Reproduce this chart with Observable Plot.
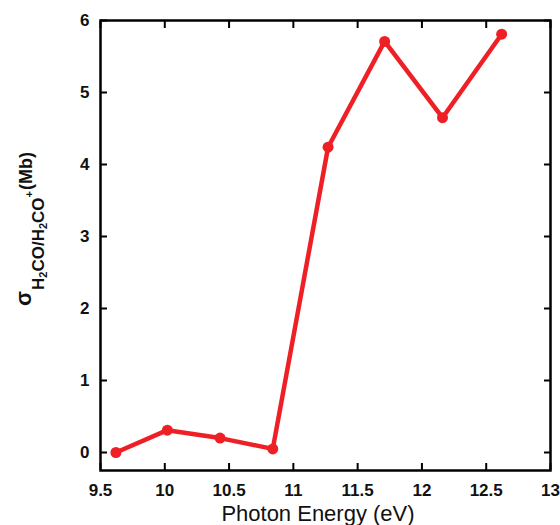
<!DOCTYPE html>
<html>
<head>
<meta charset="utf-8">
<script src="https://cdn.jsdelivr.net/npm/d3@7"></script>
<script src="https://cdn.jsdelivr.net/npm/@observablehq/plot@0.6"></script>
<style>
  html, body { margin: 0; padding: 0; background: #fff; }
  svg { font-family: "Liberation Sans", Arial, sans-serif; }
</style>
</head>
<body>
<div id="chart"></div>
<script>
const energy = [9.62, 10.02, 10.43, 10.84, 11.27, 11.71, 12.16, 12.62];
const sigma  = [0, 0.31, 0.20, 0.05, 4.24, 5.71, 4.65, 5.81];
const xTicks = [9.5, 10, 10.5, 11, 11.5, 12, 12.5, 13];
const yTicks = [0, 1, 2, 3, 4, 5, 6];
const xTickLabels = ["9.5", "10", "10.5", "11", "11.5", "12", "12.5", "13"];
const yTickLabels = ["0", "1", "2", "3", "4", "5", "6"];

const data = energy.map((e, i) => ({energy: e, sigma: sigma[i]}));
const red = "#ee2026";

const plot = Plot.plot({
  width: 560,
  height: 525,
  marginLeft: 100,
  marginRight: 10,
  marginTop: 20,
  marginBottom: 55,
  style: {fontFamily: "Liberation Sans, Arial, sans-serif", background: "#fff"},
  x: {domain: [9.5, 13]},
  y: {domain: [-0.25, 6]},
  marks: [
    // inward ticks on all sides
    Plot.axisX({anchor: "bottom", ticks: xTicks, tickSize: -7, strokeWidth: 2, label: null, tickFormat: () => ""}),
    Plot.axisX({anchor: "top", ticks: xTicks, tickSize: -7, strokeWidth: 2, label: null, tickFormat: () => ""}),
    Plot.axisY({anchor: "left", ticks: yTicks, tickSize: -7, strokeWidth: 2, label: null, tickFormat: () => ""}),
    Plot.axisY({anchor: "right", ticks: yTicks, tickSize: -7, strokeWidth: 2, label: null, tickFormat: () => ""}),
    // tick labels
    Plot.axisX({anchor: "bottom", ticks: xTicks, tickSize: 0, tickPadding: 13, label: null,
      tickFormat: d => xTickLabels[xTicks.indexOf(d)], fontSize: 17, fontWeight: "bold", fill: "#111"}),
    Plot.axisY({anchor: "left", ticks: yTicks, tickSize: 0, tickPadding: 11, label: null,
      tickFormat: d => yTickLabels[yTicks.indexOf(d)], fontSize: 17, fontWeight: "bold", fill: "#111"}),
    Plot.line(data, {x: "energy", y: "sigma", stroke: red, strokeWidth: 4.5, strokeLinejoin: "round"}),
    Plot.dot(data, {x: "energy", y: "sigma", r: 5.5, fill: red}),
    Plot.frame({stroke: "#000", strokeWidth: 2.5})
  ]
});

document.getElementById("chart").appendChild(plot);

const svg = d3.select(plot);
// x axis title
svg.append("text")
  .attr("x", 318).attr("y", 521)
  .attr("text-anchor", "middle")
  .attr("font-size", 22)
  .attr("fill", "#111")
  .text("Photon Energy (eV)");

// y axis title with sub/superscripts
const yl = svg.append("text")
  .attr("transform", "translate(31,306) rotate(-90)")
  .attr("text-anchor", "start")
  .attr("font-weight", "bold")
  .attr("fill", "#111");
yl.append("tspan").attr("font-size", 22).text("σ");
yl.append("tspan").attr("font-size", 17).attr("dy", 13).attr("dx", 1).text("H");
yl.append("tspan").attr("font-size", 11).attr("dy", 3).text("2");
yl.append("tspan").attr("font-size", 17).attr("dy", -3).text("CO/H");
yl.append("tspan").attr("font-size", 11).attr("dy", 3).text("2");
yl.append("tspan").attr("font-size", 17).attr("dy", -3).text("CO");
yl.append("tspan").attr("font-size", 11).attr("dy", -11).text("+");
yl.append("tspan").attr("font-size", 18).attr("dy", -1).attr("dx", 1).text("(Mb)");
</script>
</body>
</html>
